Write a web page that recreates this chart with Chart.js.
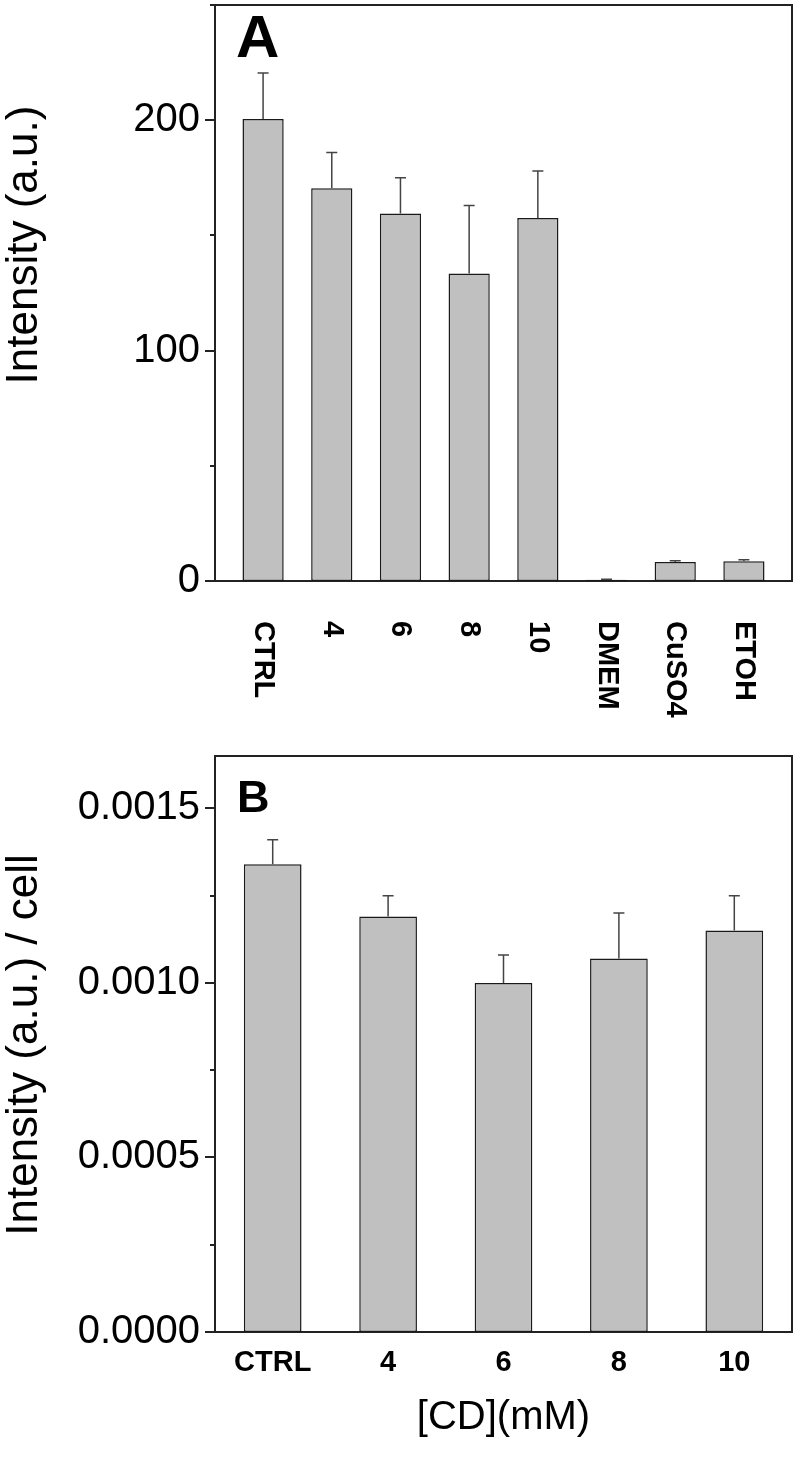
<!DOCTYPE html>
<html>
<head>
<meta charset="utf-8">
<script src="https://cdn.jsdelivr.net/npm/chart.js@4.4.1/dist/chart.umd.min.js"></script>
<style>
  body { margin: 0; background: #fff; }
  #wrap { position: relative; width: 797px; height: 1463px; background: #fff; }
  canvas { position: absolute; left: 0; }
</style>
</head>
<body>
<div id="wrap">
  <canvas id="chart-a" width="797" height="745" style="top:0"></canvas>
  <canvas id="chart-b" width="797" height="718" style="top:745px"></canvas>
</div>
<script>
// Panel A: intensity per condition
const labelsA = ['CTRL', '4', '6', '8', '10', 'DMEM', 'CuSO4', 'ETOH'];
const valuesA = [200.5, 170.5, 159.5, 133.5, 157.5, 0.5, 8.2, 8.6];
const errorsA = [20, 15.5, 15.5, 29.5, 20.5, 0.3, 0.6, 0.6];
const yTicksA = [0, 100, 200];
const yMinorA = [50, 150, 250];

// Panel B: intensity per cell
const labelsB = ['CTRL', '4', '6', '8', '10'];
const valuesB = [0.00134, 0.00119, 0.00100, 0.00107, 0.00115];
const errorsB = [0.00007, 0.00006, 0.00008, 0.00013, 0.00010];
const yTicksB = [0, 0.0005, 0.0010, 0.0015];
const yMinorB = [0.00025, 0.00075, 0.00125];

const COLORS = {
  bar: '#c0c0c0',
  edge: '#1a1a1a',
  axis: '#222222',
  err: '#444444',
  text: '#000000'
};
const FONT = '"Liberation Sans", Arial, Helvetica, sans-serif';

Chart.defaults.font.family = FONT;
Chart.defaults.color = COLORS.text;
Chart.defaults.animation = false;

// no automatic label padding, the plot box is fixed
function noPad(s) {
  s.paddingTop = 0;
  s.paddingBottom = 0;
  s.paddingLeft = 0;
  s.paddingRight = 0;
}

// error bars, box frame, ticks, panel letter and titles
const decor = {
  id: 'decor',
  afterDatasetsDraw(chart, args, opts) {
    const { ctx, chartArea: a, scales: { x, y } } = chart;
    const meta = chart.getDatasetMeta(0);
    ctx.save();

    ctx.strokeStyle = COLORS.err;
    ctx.lineWidth = 1.5;
    meta.data.forEach((bar, i) => {
      const top = y.getPixelForValue(opts.values[i] + opts.errors[i]);
      ctx.beginPath();
      ctx.moveTo(bar.x, bar.y);
      ctx.lineTo(bar.x, top);
      ctx.moveTo(bar.x - 5.5, top);
      ctx.lineTo(bar.x + 5.5, top);
      ctx.stroke();
    });

    ctx.strokeStyle = COLORS.axis;
    ctx.lineWidth = 2;
    ctx.beginPath();
    ctx.moveTo(a.left, a.top);
    ctx.lineTo(a.right, a.top);
    ctx.lineTo(a.right, a.bottom);
    ctx.stroke();

    ctx.beginPath();
    opts.major.forEach(v => {
      const py = Math.round(y.getPixelForValue(v));
      ctx.moveTo(a.left - 10, py);
      ctx.lineTo(a.left, py);
    });
    opts.minor.forEach(v => {
      const py = Math.round(y.getPixelForValue(v));
      ctx.moveTo(a.left - 5, py);
      ctx.lineTo(a.left, py);
    });
    ctx.stroke();

    ctx.fillStyle = COLORS.text;
    ctx.font = opts.letterFont;
    ctx.textAlign = 'left';
    ctx.textBaseline = 'alphabetic';
    ctx.fillText(opts.letter, opts.letterX, opts.letterY);

    // rotated category labels (panel A)
    if (opts.rotated) {
      ctx.font = 'bold 29px ' + FONT;
      ctx.textBaseline = 'middle';
      opts.rotated.forEach((t, i) => {
        ctx.save();
        ctx.translate(x.getPixelForValue(i), a.bottom + 40);
        ctx.rotate(Math.PI / 2);
        ctx.fillText(t, 0, 0);
        ctx.restore();
      });
    }

    ctx.font = '44px ' + FONT;
    ctx.textAlign = 'center';
    ctx.textBaseline = 'middle';
    ctx.save();
    ctx.translate(25, opts.yTitleY);
    ctx.rotate(-Math.PI / 2);
    ctx.fillText(opts.yTitle, 0, 0);
    ctx.restore();

    if (opts.xTitle) {
      ctx.font = '40px ' + FONT;
      ctx.fillText(opts.xTitle, (a.left + a.right) / 2, opts.xTitleY);
    }
    ctx.restore();
  }
};

function barDataset(data) {
  return {
    data,
    backgroundColor: COLORS.bar,
    borderColor: COLORS.edge,
    borderWidth: 1.5,
    borderSkipped: false,
    categoryPercentage: 1
  };
}

// Panel A
new Chart(document.getElementById('chart-a'), {
  type: 'bar',
  data: {
    datasets: [{
      ...barDataset(valuesA.map((v, i) => ({ x: i, y: v }))),
      barPercentage: 0.6
    }]
  },
  plugins: [decor],
  options: {
    responsive: false,
    layout: { autoPadding: false, padding: { left: 0, top: 5, right: 5, bottom: 0 } },
    plugins: {
      legend: { display: false },
      tooltip: { enabled: false },
      decor: {
        values: valuesA,
        errors: errorsA,
        major: yTicksA,
        minor: yMinorA,
        letter: 'A',
        letterFont: 'bold 60px ' + FONT,
        letterX: 236,
        letterY: 57,
        rotated: labelsA,
        yTitle: 'Intensity (a.u.)',
        yTitleY: 245
      }
    },
    scales: {
      x: {
        type: 'linear',
        offset: false,
        min: -0.7,
        max: 7.7,
        grid: { display: false, offset: false },
        border: { display: true, color: COLORS.axis, width: 2 },
        ticks: { display: false },
        afterBuildTicks: s => { s.ticks = labelsA.map((_, i) => ({ value: i })); },
        afterFit: s => { noPad(s); s.height = 745 - 581; }
      },
      y: {
        min: 0,
        max: 250,
        grid: { display: false, drawTicks: false },
        border: { display: true, color: COLORS.axis, width: 2 },
        afterBuildTicks: s => { s.ticks = yTicksA.map(value => ({ value })); },
        ticks: { padding: 15, font: { size: 40 }, color: COLORS.text },
        afterFit: s => { noPad(s); s.width = 215; }
      }
    }
  }
});

// Panel B
new Chart(document.getElementById('chart-b'), {
  type: 'bar',
  data: {
    labels: labelsB,
    datasets: [{ ...barDataset(valuesB), barPercentage: 0.5 }]
  },
  plugins: [decor],
  options: {
    responsive: false,
    layout: { autoPadding: false, padding: { left: 0, top: 11, right: 5, bottom: 0 } },
    plugins: {
      legend: { display: false },
      tooltip: { enabled: false },
      decor: {
        values: valuesB,
        errors: errorsB,
        major: yTicksB,
        minor: yMinorB,
        letter: 'B',
        letterFont: 'bold 45px ' + FONT,
        letterX: 237,
        letterY: 67,
        yTitle: 'Intensity (a.u.) / cell',
        yTitleY: 300,
        xTitle: '[CD](mM)',
        xTitleY: 673
      }
    },
    scales: {
      x: {
        offset: true,
        grid: { display: false, drawTicks: false },
        border: { display: true, color: COLORS.axis, width: 2 },
        ticks: { padding: 14, font: { size: 29, weight: 'bold' }, color: COLORS.text },
        afterFit: s => { noPad(s); s.height = 718 - 587; }
      },
      y: {
        min: 0,
        max: 0.00165,
        grid: { display: false, drawTicks: false },
        border: { display: true, color: COLORS.axis, width: 2 },
        afterBuildTicks: s => { s.ticks = yTicksB.map(value => ({ value })); },
        ticks: { padding: 15, font: { size: 40 }, color: COLORS.text, callback: v => v.toFixed(4) },
        afterFit: s => { noPad(s); s.width = 215; }
      }
    }
  }
});
</script>
</body>
</html>
